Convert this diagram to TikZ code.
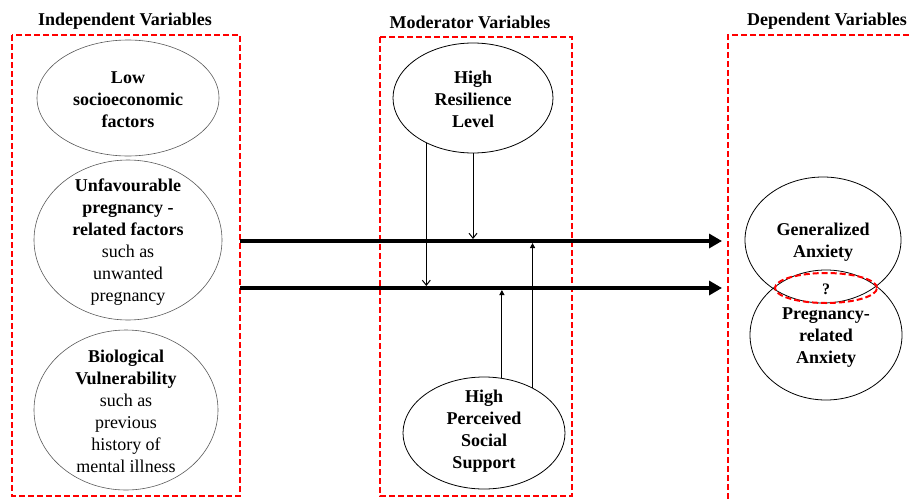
\documentclass[tikz,border=0pt]{standalone}
\usepackage{fontspec}
\setmainfont{LiberationSerif}[Extension=.ttf, UprightFont=*-Regular, BoldFont=*-Bold, ItalicFont=*-Italic, BoldItalicFont=*-BoldItalic]
\usetikzlibrary{shapes.geometric,arrows.meta,calc}
\begin{document}
\begin{tikzpicture}[x=1pt,y=-1pt,
  txt/.style={font=\fontsize{18}{22}\selectfont, align=center, inner sep=0pt},
  title/.style={font=\fontsize{18}{22}\selectfont\bfseries, inner sep=0pt},
  oval/.style={ellipse, draw, inner sep=0pt},
  lightoval/.style={oval, draw=black!65, line width=0.6pt},
  darkoval/.style={oval, draw=black, line width=0.8pt},
  redbox/.style={draw=red, line width=2pt, dash pattern=on 6pt off 3pt},
  mainarrow/.style={line width=4pt, -{Triangle[length=13pt,width=14pt]}},
  downarrow/.style={line width=1pt, -{Straight Barb[length=5pt,width=8pt]}, shorten >=2pt},
  uparrow/.style={line width=1pt, -{Triangle[length=5pt,width=5pt]}, shorten >=2pt}
]
\useasboundingbox (0,0) rectangle (909,498);

% titles
\node[title] (t1) at (125,21) {Independent Variables};
\node[title] (t2) at (470,22) {Moderator Variables};
\node[title] (t3) at (827,21) {Dependent Variables};

% dashed boxes
\draw[redbox] (12,35) rectangle (240,496);
\draw[redbox] (380,37) rectangle (572,496);
\draw[redbox] (909,35) -- (728,35) -- (728,499);

% independent variables
\node[lightoval, minimum width=182pt, minimum height=116pt] (ses) at (128,98) {};
\node[txt] (sesT) at (128,100) {\textbf{Low}\\ \textbf{socioeconomic}\\ \textbf{factors}};
\node[lightoval, minimum width=188pt, minimum height=160pt] (preg) at (128,240) {};
\node[txt] (pregT) at (128,242)
  {\textbf{Unfavourable}\\ \textbf{pregnancy -}\\ \textbf{related factors}\\ such as\\ unwanted\\ pregnancy};
\node[lightoval, minimum width=184pt, minimum height=160pt] (bio) at (126,410) {};
\node[txt] (bioT) at (126,411)
  {\textbf{Biological}\\ \textbf{Vulnerability}\\ such as\\ previous\\ history of\\ mental illness};

% moderators
\node[darkoval, minimum width=160pt, minimum height=110pt] (res) at (473,98) {};
\node[txt] (resT) at (473,99) {\textbf{High}\\ \textbf{Resilience}\\ \textbf{Level}};
\node[darkoval, minimum width=162pt, minimum height=112pt] (sup) at (484,433) {};
\node[txt] (supT) at (484,431) {\textbf{High}\\ \textbf{Perceived}\\ \textbf{Social}\\ \textbf{Support}};

% dependent variables
\node[darkoval, minimum width=156pt, minimum height=126pt] (gen) at (823,240) {};
\node[txt] (genT) at (823,242) {\textbf{Generalized}\\ \textbf{Anxiety}};
\node[darkoval, minimum width=152pt, minimum height=130pt] (pra) at (826,335) {};
\node[txt] (praT) at (826,338) {\textbf{Pregnancy-}\\ \textbf{related}\\ \textbf{Anxiety}};
\node[ellipse, draw=red, line width=2pt, dash pattern=on 6pt off 3pt,
      minimum width=102pt, minimum height=30pt, inner sep=0pt] (ov) at (826,288) {};
\node[font=\fontsize{16}{20}\selectfont\bfseries, inner sep=0pt] (q) at (826,289) {?};

% main arrows
\coordinate (up0) at (240,241);
\coordinate (up1) at (722,241);
\coordinate (lo0) at (240,288);
\coordinate (lo1) at (722,288);
\draw[mainarrow] (up0) -- (up1);
\draw[mainarrow] (lo0) -- (lo1);

% moderating arrows
\draw[downarrow] (res.224) -- (res.224 |- lo0);
\draw[downarrow] (res.south) -- (res.south |- up0);
\draw[uparrow] (sup.72) -- (sup.72 |- lo0);
\draw[uparrow] (sup.43) -- (sup.43 |- up0);
\end{tikzpicture}
\end{document}
